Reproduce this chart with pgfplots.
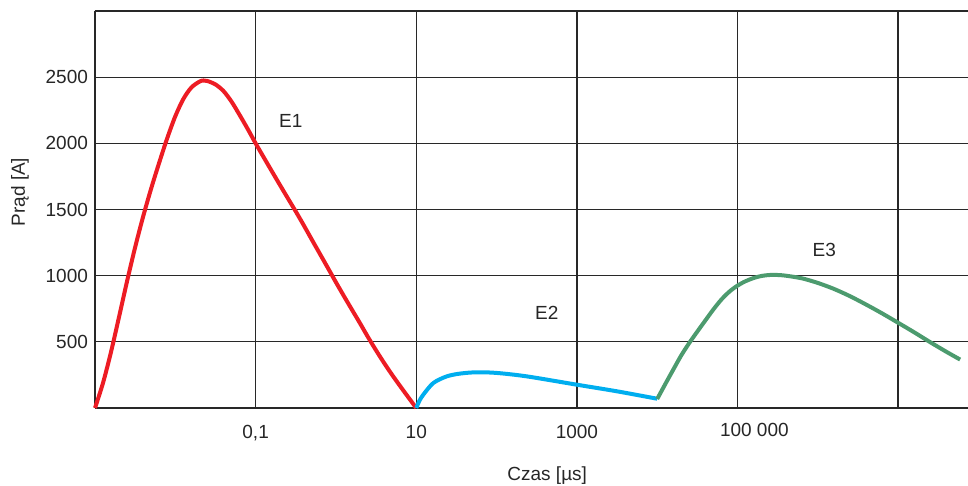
\documentclass[border=0pt]{standalone}
\usepackage{pgfplots}
\pgfplotsset{compat=1.18}
\usepackage{fontspec}
\setmainfont{Liberation Sans}
\definecolor{eone}{RGB}{237,28,36}
\definecolor{etwo}{RGB}{0,174,239}
\definecolor{ethree}{RGB}{76,155,110}
\definecolor{gridc}{RGB}{40,40,40}
\begin{document}
\begin{tikzpicture}
\begin{axis}[
  scale only axis,
  width=436.5pt, height=198.5pt,
  xmin=-3, xmax=7.87,
  ymin=0, ymax=3000,
  axis x line*=bottom,
  axis y line*=left,
  axis line style={draw=gridc, line width=1pt},
  xtick={-1,1,3,5,7},
  xticklabels={{0,1},10,1000,{},{}},
  ytick={500,1000,1500,2000,2500,3000},
  yticklabels={500,1000,1500,2000,2500,{}},
  major tick length=0pt,
  grid=major,
  major grid style={draw=gridc, line width=0.65pt},
  tick label style={font=\fontsize{9.5}{11}\selectfont, text=black!85},
  xticklabel style={yshift=-5.3pt},
  /pgf/number format/assume math mode=true,
  clip=false,
]
\addplot[eone, line width=2pt, smooth, line join=round] coordinates {
  (-3,0) (-2.9,190) (-2.8,425) (-2.7,690) (-2.6,960) (-2.5,1215)
  (-2.4,1448) (-2.3,1660) (-2.2,1855) (-2.1,2040) (-2.0,2205)
  (-1.9,2335) (-1.8,2422) (-1.7,2466) (-1.65,2475) (-1.6,2471)
  (-1.5,2445) (-1.4,2395) (-1.3,2315) (-1.2,2215) (-1.1,2110)
  (-1.0,2000) (-0.9,1895) (-0.8,1791) (-0.7,1688) (-0.6,1586)
  (-0.5,1485) (-0.4,1380) (-0.3,1272) (-0.2,1165) (-0.1,1058)
  (0,950) (0.1,845) (0.2,742) (0.3,640) (0.4,535) (0.5,435)
  (0.6,340) (0.7,250) (0.8,165) (0.9,82) (1.0,0)
};
\addplot[etwo, line width=2pt, smooth, line join=round] coordinates {
  (1,0) (1.04,55) (1.088,101) (1.213,189) (1.38,239) (1.545,260)
  (1.753,270) (2.0,265) (2.376,239) (3.0,176) (3.5,126) (4.0,70)
};
\addplot[ethree, line width=2pt, smooth, line join=round] coordinates {
  (4.0,68) (4.1,180) (4.2,290) (4.3,398) (4.4,492) (4.5,578)
  (4.6,662) (4.7,745) (4.8,820) (4.9,880) (5.0,925) (5.1,958)
  (5.2,982) (5.3,998) (5.4,1005) (5.5,1005) (5.6,1000) (5.8,980)
  (6.0,945) (6.2,900) (6.4,845) (6.6,782) (6.8,715) (7.0,644)
  (7.2,572) (7.4,497) (7.6,425) (7.772,366)
};
\node[font=\fontsize{9.5}{11}\selectfont, text=black!85] at (axis cs:-0.5625,2170) {E1};
\node[font=\fontsize{9.5}{11}\selectfont, text=black!85] at (axis cs:2.625,720) {E2};
\node[font=\fontsize{9.5}{11}\selectfont, text=black!85] at (axis cs:6.08,1195) {E3};
\node[font=\fontsize{9.5}{11}\selectfont, text=black!85, anchor=north, inner sep=0pt] at ([yshift=-7.5pt]axis cs:5.21,0) {100 000};
\draw[gridc, line width=0.8pt] (rel axis cs:0,1) -- (rel axis cs:1,1);
\node[font=\fontsize{9.5}{11}\selectfont, text=black!85, rotate=90] at (axis description cs:-0.086,0.544) {Prąd [A]};
\node[font=\fontsize{9.5}{11}\selectfont, text=black!85] at (axis description cs:0.518,-0.171) {Czas [µs]};
\end{axis}
\pgfresetboundingbox
\path (-47.5pt,-39pt) rectangle (436.5pt,204pt);
\end{tikzpicture}
\end{document}
